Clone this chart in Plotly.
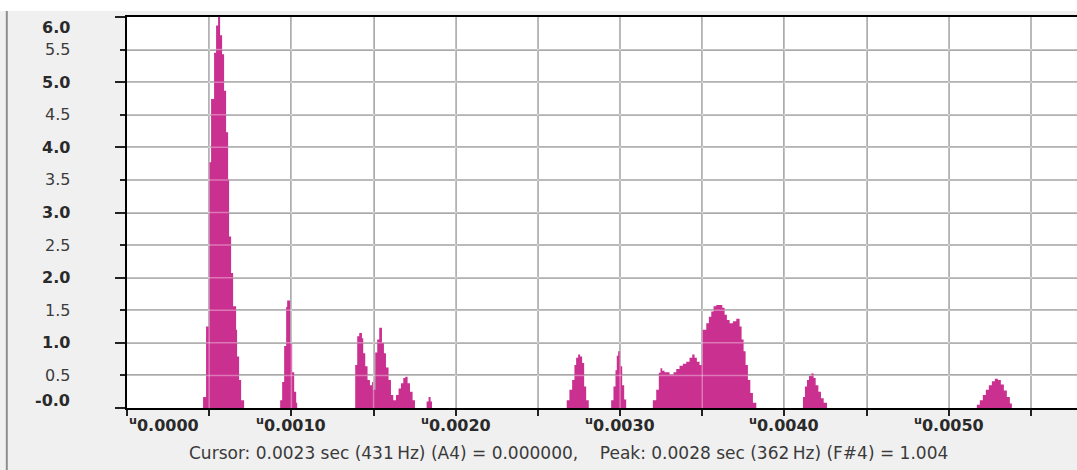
import plotly.graph_objects as go

# Lag (seconds) at which each step of the trace begins, and its level.
time_s = [
    # main peak
    0.0004629, 0.0004811, 0.0004994, 0.0005116, 0.0005298, 0.0005420, 0.0005542,
    0.0005664, 0.0005786, 0.0005907, 0.0006029, 0.0006151, 0.0006212, 0.0006334,
    0.0006456, 0.0006638, 0.0006699, 0.0006821, 0.0006943, 0.0007125,
    # peak near 1 ms
    0.0009318, 0.0009440, 0.0009562, 0.0009683, 0.0009744, 0.0009927, 0.0010049,
    0.0010170, 0.0010292, 0.0010353,
    # cluster around 1.5 ms
    0.0013886, 0.0014007, 0.0014129, 0.0014294, 0.0014373, 0.0014495, 0.0014635,
    0.0014781, 0.0014903, 0.0014982, 0.0015104, 0.0015225, 0.0015347, 0.0015512,
    0.0015633, 0.0015755, 0.0015914, 0.0016060, 0.0016200, 0.0016364, 0.0016523,
    0.0016669, 0.0016809, 0.0016931, 0.0017071, 0.0017217, 0.0017375, 0.0017521,
    0.0018228, 0.0018350, 0.0018471, 0.0018557,
    # peak near 2.75 ms
    0.0026754, 0.0026918, 0.0027083, 0.0027223, 0.0027326, 0.0027448, 0.0027570,
    0.0027692, 0.0027814, 0.0027936, 0.0028094,
    # peak near 3 ms
    0.0029458, 0.0029598, 0.0029720, 0.0029799, 0.0029884, 0.0030006, 0.0030128,
    0.0030250, 0.0030371,
    # broad group 3.2 - 3.8 ms
    0.0031992, 0.0032199, 0.0032357, 0.0032460, 0.0032564, 0.0032704, 0.0033009,
    0.0033252, 0.0033417, 0.0033618, 0.0033819, 0.0034026, 0.0034227, 0.0034391,
    0.0034531, 0.0034671, 0.0034836, 0.0035000, 0.0035244, 0.0035402, 0.0035548,
    0.0035688, 0.0035853, 0.0036218, 0.0036358, 0.0036498, 0.0036662, 0.0036864,
    0.0037071, 0.0037272, 0.0037393, 0.0037515, 0.0037637, 0.0037777, 0.0037923,
    0.0038082, 0.0038289,
    # peak near 4.15 ms
    0.0041127, 0.0041248, 0.0041370, 0.0041492, 0.0041638, 0.0041778, 0.0041900,
    0.0042064, 0.0042223, 0.0042388, 0.0042588,
    # peak near 5.3 ms
    0.0051705, 0.0051888, 0.0052071, 0.0052253, 0.0052436, 0.0052619, 0.0052802,
    0.0052984, 0.0053167, 0.0053350, 0.0053532, 0.0053715, 0.0053837,
]

amplitude = [
    0.17, 1.25, 3.77, 4.74, 5.45, 5.87, 6.30, 5.72, 5.43, 4.87, 4.23, 3.51, 2.63,
    2.07, 1.56, 1.20, 0.79, 0.43, 0.12, 0.0,
    0.12, 0.40, 0.95, 1.55, 1.65, 1.00, 0.55, 0.25, 0.08, 0.0,
    0.66, 1.10, 1.15, 1.07, 0.84, 0.64, 0.43, 0.35, 0.40, 0.28, 0.85, 1.05, 1.23,
    1.00, 0.84, 0.62, 0.43, 0.20, 0.12, 0.20, 0.30, 0.38, 0.46, 0.48, 0.38, 0.25,
    0.12, 0.0,
    0.10, 0.17, 0.10, 0.0,
    0.12, 0.28, 0.43, 0.66, 0.77, 0.82, 0.79, 0.69, 0.33, 0.12, 0.0,
    0.12, 0.33, 0.58, 0.80, 0.87, 0.64, 0.35, 0.13, 0.0,
    0.12, 0.28, 0.54, 0.61, 0.57, 0.55, 0.51, 0.55, 0.60, 0.65, 0.68, 0.71, 0.77,
    0.82, 0.77, 0.71, 0.66, 1.20, 1.30, 1.40, 1.48, 1.56, 1.58, 1.54, 1.43, 1.35,
    1.30, 1.33, 1.37, 1.25, 1.05, 0.87, 0.66, 0.43, 0.23, 0.08, 0.0,
    0.17, 0.33, 0.43, 0.49, 0.53, 0.46, 0.35, 0.25, 0.15, 0.08, 0.0,
    0.05, 0.12, 0.20, 0.28, 0.35, 0.41, 0.45, 0.43, 0.36, 0.27, 0.17, 0.07, 0.0,
]

# Axis labelling
y_tick_values = [6.0, 5.5, 5.0, 4.5, 4.0, 3.5, 3.0, 2.5, 2.0, 1.5, 1.0, 0.5, 0.0]
y_tick_labels = ["6.0", "5.5", "5.0", "4.5", "4.0", "3.5", "3.0", "2.5", "2.0",
                 "1.5", "1.0", "0.5", "-0.0"]
x_tick_values = [0.0, 0.001, 0.002, 0.003, 0.004, 0.005]
x_tick_labels = ["0.0000", "0.0010", "0.0020", "0.0030", "0.0040", "0.0050"]
x_prefix = "<sup>u</sup>"

status_text = ("Cursor: 0.0023 sec (431\u2009Hz) (A4) = 0.000000,\u00a0\u00a0\u00a0\u00a0"
               "Peak: 0.0028 sec (362\u2009Hz) (F#4) = 1.004")

X_MAX = 0.00578
Y_MAX = 6.0
FONT = "DejaVu Sans"
GRID = "#a2a2a2"

# One closed stair-step outline per peak (each peak ends on a zero level)
fig = go.Figure()
poly_x, poly_y = [], []
prev = 0.0
for t, v in zip(time_s, amplitude):
    poly_x += [t, t]
    poly_y += [prev, v]
    prev = v
    if v == 0.0:
        fig.add_trace(go.Scatter(
            x=poly_x, y=poly_y, mode="lines", line=dict(width=0),
            fill="toself", fillcolor="#ca3090",
            hoverinfo="skip", showlegend=False,
        ))
        poly_x, poly_y = [], []

# Grid shows through the filled area as a pale stripe
shapes = []
for k in range(1, 12):
    gx = 0.0005 * k
    shapes.append(dict(type="line", xref="x", yref="paper", x0=gx, x1=gx, y0=0, y1=1,
                       line=dict(color="rgba(255,255,255,0.35)", width=1.5), layer="above"))
    gy = 0.5 * k
    shapes.append(dict(type="line", xref="paper", yref="y", x0=0, x1=1, y0=gy, y1=gy,
                       line=dict(color="rgba(255,255,255,0.35)", width=1.5), layer="above"))

# Window frame: white strip on top and thin border at left
shapes.append(dict(type="rect", xref="paper", yref="paper", x0=-0.2, x1=1.1,
                   y0=1.0 + 6 / 391, y1=1.2, fillcolor="white", line=dict(width=0),
                   layer="below"))
shapes.append(dict(type="line", xref="paper", yref="paper", x0=-0.1265, x1=-0.1265,
                   y0=-0.2, y1=1.0 + 6 / 391, line=dict(color="#8e8e8e", width=2)))

annotations = []
for val, lab in zip(y_tick_values, y_tick_labels):
    major = abs(val - round(val)) < 1e-9
    shift = 0
    if val == Y_MAX:
        shift = -10
    elif val == 0.0:
        shift = 8
    annotations.append(dict(
        xref="paper", yref="y", x=0, y=val, xanchor="right", yanchor="middle",
        xshift=-55, yshift=shift, showarrow=False, text=lab,
        font=dict(family=FONT, size=16, color="#2a2a2a" if major else "#3c3c3c",
                  weight="bold" if major else "normal"),
    ))

for val, lab in zip(x_tick_values, x_tick_labels):
    first = val == 0.0
    annotations.append(dict(
        xref="x", yref="paper", x=val, y=0, xanchor="left" if first else "center",
        yanchor="middle", yshift=-16, showarrow=False, text=x_prefix + lab,
        font=dict(family=FONT, size=16, color="#2a2a2a", weight="bold"),
    ))

annotations.append(dict(
    xref="paper", yref="paper", x=0.4647, y=0, xanchor="center", yanchor="middle",
    yshift=-45, showarrow=False, text=status_text,
    font=dict(family=FONT, size=17, color="#3a3a3a"),
))

fig.update_layout(
    width=1077, height=470,
    margin=dict(l=127, r=0, t=17, b=62),
    paper_bgcolor="#f0f0f0", plot_bgcolor="white",
    shapes=shapes, annotations=annotations,
    xaxis=dict(
        range=[0, X_MAX], tick0=0, dtick=0.0005, showticklabels=False,
        showgrid=True, gridcolor=GRID, gridwidth=1.5, zeroline=False,
        showline=True, linecolor="black", linewidth=2, mirror=True,
        ticks="outside", ticklen=6, tickcolor="#222", tickwidth=1.5,
    ),
    yaxis=dict(
        range=[0, Y_MAX], tick0=0, dtick=1.0, showticklabels=False,
        showgrid=True, gridcolor=GRID, gridwidth=1.5, zeroline=False,
        showline=True, linecolor="black", linewidth=2,
        ticks="outside", ticklen=10, tickcolor="#222", tickwidth=1.5,
        minor=dict(dtick=0.5, tick0=0, ticks="outside", ticklen=5, tickcolor="#222",
                   tickwidth=1.5, showgrid=True, gridcolor=GRID, gridwidth=1.5),
    ),
)

fig.write_html("out.html")
